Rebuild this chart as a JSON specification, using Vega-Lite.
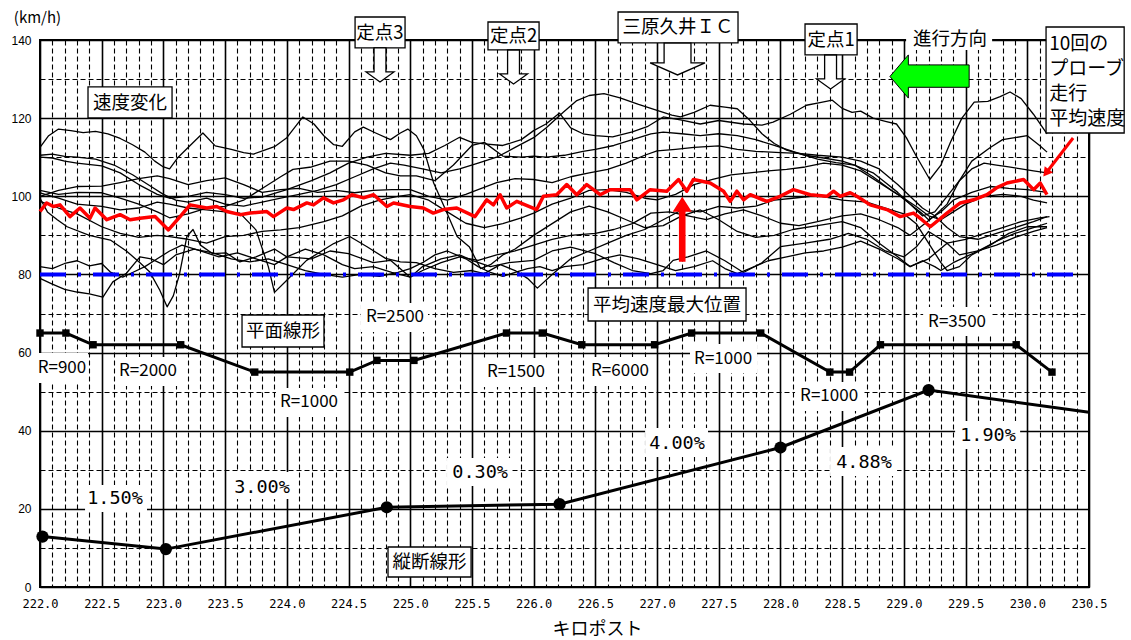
{
"$schema":"https://vega.github.io/schema/vega-lite/v6.json",
"width":1049,"height":547,"autosize":"none",
"padding":{"left":40,"top":40,"right":42,"bottom":53},
"background":"white",
"config":{"font":"Noto Sans CJK JP","view":{"stroke":"black","strokeWidth":2}},
"datasets":{
"probe":[
{"run":"1","km":222,"kmh":112.5},{"run":"1","km":222.07,"kmh":115.5},{"run":"1","km":222.15,"kmh":117.2},{"run":"1","km":222.25,"kmh":116.8},{"run":"1","km":222.35,"kmh":116.3},{"run":"1","km":222.45,"kmh":116.6},{"run":"1","km":222.55,"kmh":116},{"run":"1","km":222.65,"kmh":114.8},{"run":"1","km":222.75,"kmh":113.2},{"run":"1","km":222.85,"kmh":111.3},{"run":"1","km":222.93,"kmh":109},{"run":"1","km":223,"kmh":107.5},{"run":"1","km":223.05,"kmh":107},{"run":"1","km":223.12,"kmh":110},{"run":"1","km":223.2,"kmh":112.5},{"run":"1","km":223.32,"kmh":116.2},{"run":"1","km":223.42,"kmh":112.9},{"run":"1","km":223.55,"kmh":112},{"run":"1","km":223.65,"kmh":111.2},{"run":"1","km":223.73,"kmh":110.8},{"run":"1","km":223.82,"kmh":111.8},{"run":"1","km":223.9,"kmh":112.7},{"run":"1","km":224,"kmh":115},{"run":"1","km":224.13,"kmh":120.3},{"run":"1","km":224.22,"kmh":118.5},{"run":"1","km":224.3,"kmh":115.5},{"run":"1","km":224.38,"kmh":113.2},{"run":"1","km":224.45,"kmh":112.8},{"run":"1","km":224.55,"kmh":116.5},{"run":"1","km":224.62,"kmh":117.7},{"run":"1","km":224.72,"kmh":116.2},{"run":"1","km":224.84,"kmh":114.5},{"run":"1","km":224.92,"kmh":116.2},{"run":"1","km":224.98,"kmh":117.2},{"run":"1","km":225.05,"kmh":115.5},{"run":"1","km":225.11,"kmh":112},{"run":"1","km":225.19,"kmh":103.4},{"run":"1","km":225.28,"kmh":97},{"run":"1","km":225.38,"kmh":89.7},{"run":"1","km":225.48,"kmh":87},{"run":"1","km":225.57,"kmh":81.5},{"run":"1","km":225.65,"kmh":82.5},{"run":"1","km":225.75,"kmh":85},{"run":"1","km":225.85,"kmh":86.5},{"run":"1","km":226,"kmh":90},{"run":"1","km":226.15,"kmh":93},{"run":"1","km":226.3,"kmh":96},{"run":"1","km":226.45,"kmh":97.5},{"run":"1","km":226.6,"kmh":96},{"run":"1","km":226.75,"kmh":94},{"run":"1","km":226.9,"kmh":92},{"run":"1","km":227.05,"kmh":92.5},{"run":"1","km":227.2,"kmh":95},{"run":"1","km":227.35,"kmh":96.5},{"run":"1","km":227.5,"kmh":94},{"run":"1","km":227.65,"kmh":91},{"run":"1","km":227.8,"kmh":89.5},{"run":"1","km":227.95,"kmh":90},{"run":"1","km":228.1,"kmh":91.5},{"run":"1","km":228.3,"kmh":92.5},{"run":"1","km":228.5,"kmh":93.5},{"run":"1","km":228.65,"kmh":92},{"run":"1","km":228.8,"kmh":88},{"run":"1","km":228.95,"kmh":84.5},{"run":"1","km":229.05,"kmh":82},{"run":"1","km":229.2,"kmh":84},{"run":"1","km":229.35,"kmh":88},{"run":"1","km":229.5,"kmh":89},{"run":"1","km":229.65,"kmh":90.5},{"run":"1","km":229.8,"kmh":92},{"run":"1","km":229.95,"kmh":93.5},{"run":"1","km":230.1,"kmh":94.5},{"run":"1","km":230.18,"kmh":94.8},
{"run":"2","km":222,"kmh":110.5},{"run":"2","km":222.1,"kmh":110.8},{"run":"2","km":222.2,"kmh":110.2},{"run":"2","km":222.3,"kmh":110},{"run":"2","km":222.45,"kmh":109.5},{"run":"2","km":222.6,"kmh":108},{"run":"2","km":222.75,"kmh":105.5},{"run":"2","km":222.9,"kmh":102.5},{"run":"2","km":223,"kmh":100.5},{"run":"2","km":223.1,"kmh":99},{"run":"2","km":223.2,"kmh":98.5},{"run":"2","km":223.35,"kmh":99.5},{"run":"2","km":223.5,"kmh":98},{"run":"2","km":223.65,"kmh":97.5},{"run":"2","km":223.8,"kmh":98.5},{"run":"2","km":223.95,"kmh":99.5},{"run":"2","km":224.1,"kmh":100.5},{"run":"2","km":224.25,"kmh":101.5},{"run":"2","km":224.4,"kmh":103},{"run":"2","km":224.55,"kmh":105},{"run":"2","km":224.7,"kmh":107},{"run":"2","km":224.84,"kmh":108.5},{"run":"2","km":224.95,"kmh":108},{"run":"2","km":225.1,"kmh":107},{"run":"2","km":225.25,"kmh":106},{"run":"2","km":225.4,"kmh":107},{"run":"2","km":225.55,"kmh":108.5},{"run":"2","km":225.7,"kmh":110},{"run":"2","km":225.85,"kmh":112.5},{"run":"2","km":226,"kmh":115},{"run":"2","km":226.1,"kmh":117.5},{"run":"2","km":226.24,"kmh":121.5},{"run":"2","km":226.35,"kmh":124.5},{"run":"2","km":226.45,"kmh":125.8},{"run":"2","km":226.57,"kmh":126.3},{"run":"2","km":226.7,"kmh":125.2},{"run":"2","km":226.85,"kmh":123.5},{"run":"2","km":227,"kmh":122},{"run":"2","km":227.12,"kmh":120.8},{"run":"2","km":227.19,"kmh":120.3},{"run":"2","km":227.3,"kmh":121.5},{"run":"2","km":227.43,"kmh":123.3},{"run":"2","km":227.55,"kmh":122.8},{"run":"2","km":227.65,"kmh":122.4},{"run":"2","km":227.75,"kmh":119.5},{"run":"2","km":227.85,"kmh":116},{"run":"2","km":227.95,"kmh":113.5},{"run":"2","km":228.05,"kmh":111.8},{"run":"2","km":228.2,"kmh":110.5},{"run":"2","km":228.35,"kmh":109.8},{"run":"2","km":228.5,"kmh":109},{"run":"2","km":228.6,"kmh":108},{"run":"2","km":228.75,"kmh":106},{"run":"2","km":228.85,"kmh":103.5},{"run":"2","km":228.95,"kmh":101},{"run":"2","km":229.05,"kmh":98},{"run":"2","km":229.15,"kmh":95},{"run":"2","km":229.25,"kmh":96},{"run":"2","km":229.35,"kmh":100},{"run":"2","km":229.45,"kmh":104},{"run":"2","km":229.55,"kmh":107},{"run":"2","km":229.65,"kmh":108.5},{"run":"2","km":229.75,"kmh":108},{"run":"2","km":229.85,"kmh":107.5},{"run":"2","km":229.95,"kmh":107},{"run":"2","km":230.05,"kmh":106.5},{"run":"2","km":230.16,"kmh":106},
{"run":"3","km":222,"kmh":110},{"run":"3","km":222.1,"kmh":109.8},{"run":"3","km":222.2,"kmh":109},{"run":"3","km":222.3,"kmh":108.5},{"run":"3","km":222.5,"kmh":107.8},{"run":"3","km":222.65,"kmh":106},{"run":"3","km":222.8,"kmh":103},{"run":"3","km":222.95,"kmh":100.5},{"run":"3","km":223.05,"kmh":99.5},{"run":"3","km":223.2,"kmh":100},{"run":"3","km":223.35,"kmh":101},{"run":"3","km":223.5,"kmh":100.4},{"run":"3","km":223.65,"kmh":99.5},{"run":"3","km":223.8,"kmh":99.8},{"run":"3","km":224,"kmh":101.7},{"run":"3","km":224.2,"kmh":104},{"run":"3","km":224.35,"kmh":106},{"run":"3","km":224.5,"kmh":108.5},{"run":"3","km":224.65,"kmh":110},{"run":"3","km":224.8,"kmh":111},{"run":"3","km":225,"kmh":110.5},{"run":"3","km":225.15,"kmh":111},{"run":"3","km":225.28,"kmh":113},{"run":"3","km":225.4,"kmh":115.1},{"run":"3","km":225.5,"kmh":113.8},{"run":"3","km":225.6,"kmh":113.4},{"run":"3","km":225.75,"kmh":113},{"run":"3","km":225.9,"kmh":114.5},{"run":"3","km":226,"kmh":116.8},{"run":"3","km":226.1,"kmh":118.5},{"run":"3","km":226.21,"kmh":121.3},{"run":"3","km":226.3,"kmh":117.5},{"run":"3","km":226.4,"kmh":116},{"run":"3","km":226.5,"kmh":115.5},{"run":"3","km":226.64,"kmh":115.2},{"run":"3","km":226.8,"kmh":116.5},{"run":"3","km":226.92,"kmh":117.8},{"run":"3","km":227.05,"kmh":120.3},{"run":"3","km":227.2,"kmh":119.5},{"run":"3","km":227.35,"kmh":118.5},{"run":"3","km":227.5,"kmh":119.4},{"run":"3","km":227.7,"kmh":118.5},{"run":"3","km":227.85,"kmh":118.2},{"run":"3","km":227.94,"kmh":119},{"run":"3","km":228.08,"kmh":121},{"run":"3","km":228.21,"kmh":123.3},{"run":"3","km":228.32,"kmh":124},{"run":"3","km":228.42,"kmh":124.6},{"run":"3","km":228.5,"kmh":122.5},{"run":"3","km":228.58,"kmh":121.5},{"run":"3","km":228.65,"kmh":121.8},{"run":"3","km":228.75,"kmh":120},{"run":"3","km":228.85,"kmh":119.2},{"run":"3","km":228.94,"kmh":118.5},{"run":"3","km":229.02,"kmh":115},{"run":"3","km":229.1,"kmh":110.3},{"run":"3","km":229.21,"kmh":104.3},{"run":"3","km":229.3,"kmh":108},{"run":"3","km":229.38,"kmh":114},{"run":"3","km":229.47,"kmh":120},{"run":"3","km":229.57,"kmh":124.1},{"run":"3","km":229.68,"kmh":124.3},{"run":"3","km":229.78,"kmh":125.5},{"run":"3","km":229.86,"kmh":126.7},{"run":"3","km":229.95,"kmh":125},{"run":"3","km":230.05,"kmh":121},{"run":"3","km":230.16,"kmh":116},
{"run":"4","km":222,"kmh":99.5},{"run":"4","km":222.06,"kmh":96},{"run":"4","km":222.14,"kmh":94},{"run":"4","km":222.22,"kmh":92.2},{"run":"4","km":222.4,"kmh":90},{"run":"4","km":222.57,"kmh":88.8},{"run":"4","km":222.7,"kmh":86},{"run":"4","km":222.81,"kmh":83},{"run":"4","km":222.89,"kmh":80.6},{"run":"4","km":222.97,"kmh":76},{"run":"4","km":223.03,"kmh":71.7},{"run":"4","km":223.08,"kmh":74.5},{"run":"4","km":223.13,"kmh":80},{"run":"4","km":223.19,"kmh":89.7},{"run":"4","km":223.24,"kmh":91.5},{"run":"4","km":223.3,"kmh":87.5},{"run":"4","km":223.4,"kmh":85.3},{"run":"4","km":223.51,"kmh":85.5},{"run":"4","km":223.62,"kmh":83.2},{"run":"4","km":223.75,"kmh":84.5},{"run":"4","km":223.9,"kmh":86.5},{"run":"4","km":224,"kmh":84.5},{"run":"4","km":224.2,"kmh":84},{"run":"4","km":224.35,"kmh":86},{"run":"4","km":224.5,"kmh":85.3},{"run":"4","km":224.7,"kmh":83},{"run":"4","km":224.84,"kmh":83.6},{"run":"4","km":225,"kmh":79.3},{"run":"4","km":225.1,"kmh":82},{"run":"4","km":225.25,"kmh":84},{"run":"4","km":225.4,"kmh":85},{"run":"4","km":225.5,"kmh":83.6},{"run":"4","km":225.65,"kmh":82},{"run":"4","km":225.8,"kmh":83},{"run":"4","km":226,"kmh":83.6},{"run":"4","km":226.15,"kmh":86},{"run":"4","km":226.3,"kmh":87},{"run":"4","km":226.5,"kmh":85.3},{"run":"4","km":226.65,"kmh":83},{"run":"4","km":226.8,"kmh":81},{"run":"4","km":226.95,"kmh":80.2},{"run":"4","km":227.05,"kmh":81},{"run":"4","km":227.13,"kmh":83.6},{"run":"4","km":227.25,"kmh":84.5},{"run":"4","km":227.4,"kmh":86},{"run":"4","km":227.55,"kmh":83.5},{"run":"4","km":227.7,"kmh":80.5},{"run":"4","km":227.85,"kmh":83},{"run":"4","km":228,"kmh":87.1},{"run":"4","km":228.2,"kmh":88},{"run":"4","km":228.4,"kmh":89},{"run":"4","km":228.55,"kmh":90.5},{"run":"4","km":228.7,"kmh":89},{"run":"4","km":228.85,"kmh":86},{"run":"4","km":229,"kmh":84.5},{"run":"4","km":229.1,"kmh":87},{"run":"4","km":229.2,"kmh":91},{"run":"4","km":229.35,"kmh":88},{"run":"4","km":229.45,"kmh":85},{"run":"4","km":229.6,"kmh":86},{"run":"4","km":229.75,"kmh":88.5},{"run":"4","km":229.9,"kmh":90.5},{"run":"4","km":230.05,"kmh":92},{"run":"4","km":230.16,"kmh":93.1},
{"run":"5","km":222,"kmh":100.9},{"run":"5","km":222.15,"kmh":99.5},{"run":"5","km":222.3,"kmh":98},{"run":"5","km":222.5,"kmh":97.4},{"run":"5","km":222.65,"kmh":96.5},{"run":"5","km":222.8,"kmh":97},{"run":"5","km":222.95,"kmh":98.5},{"run":"5","km":223.05,"kmh":98},{"run":"5","km":223.2,"kmh":97},{"run":"5","km":223.35,"kmh":96.5},{"run":"5","km":223.5,"kmh":96},{"run":"5","km":223.62,"kmh":95.7},{"run":"5","km":223.75,"kmh":91.4},{"run":"5","km":223.85,"kmh":82},{"run":"5","km":223.9,"kmh":75.4},{"run":"5","km":224,"kmh":78.5},{"run":"5","km":224.16,"kmh":83.6},{"run":"5","km":224.38,"kmh":87.9},{"run":"5","km":224.51,"kmh":89.7},{"run":"5","km":224.65,"kmh":87.1},{"run":"5","km":224.8,"kmh":84.1},{"run":"5","km":224.92,"kmh":83.2},{"run":"5","km":225.05,"kmh":83},{"run":"5","km":225.2,"kmh":81.5},{"run":"5","km":225.35,"kmh":80.5},{"run":"5","km":225.5,"kmh":81},{"run":"5","km":225.6,"kmh":80.2},{"run":"5","km":225.73,"kmh":82.5},{"run":"5","km":225.85,"kmh":81},{"run":"5","km":225.95,"kmh":79},{"run":"5","km":226.03,"kmh":76.5},{"run":"5","km":226.15,"kmh":80},{"run":"5","km":226.3,"kmh":84},{"run":"5","km":226.45,"kmh":86},{"run":"5","km":226.6,"kmh":88},{"run":"5","km":226.75,"kmh":90},{"run":"5","km":226.9,"kmh":91.5},{"run":"5","km":227.05,"kmh":94},{"run":"5","km":227.2,"kmh":96.5},{"run":"5","km":227.35,"kmh":96},{"run":"5","km":227.5,"kmh":97.4},{"run":"5","km":227.65,"kmh":97},{"run":"5","km":227.8,"kmh":97.5},{"run":"5","km":227.95,"kmh":99},{"run":"5","km":228.1,"kmh":99.5},{"run":"5","km":228.3,"kmh":100.2},{"run":"5","km":228.5,"kmh":99},{"run":"5","km":228.7,"kmh":98.5},{"run":"5","km":228.85,"kmh":97},{"run":"5","km":229,"kmh":95.5},{"run":"5","km":229.1,"kmh":93},{"run":"5","km":229.2,"kmh":88},{"run":"5","km":229.3,"kmh":83},{"run":"5","km":229.35,"kmh":81},{"run":"5","km":229.45,"kmh":82},{"run":"5","km":229.55,"kmh":85},{"run":"5","km":229.7,"kmh":87.5},{"run":"5","km":229.85,"kmh":90.5},{"run":"5","km":230,"kmh":92.2},{"run":"5","km":230.16,"kmh":92.2},
{"run":"6","km":222,"kmh":100},{"run":"6","km":222.15,"kmh":101.5},{"run":"6","km":222.3,"kmh":102.5},{"run":"6","km":222.5,"kmh":102.6},{"run":"6","km":222.65,"kmh":103.5},{"run":"6","km":222.8,"kmh":104.5},{"run":"6","km":222.95,"kmh":105.2},{"run":"6","km":223.05,"kmh":104.5},{"run":"6","km":223.2,"kmh":103},{"run":"6","km":223.35,"kmh":104},{"run":"6","km":223.5,"kmh":104.7},{"run":"6","km":223.65,"kmh":103},{"run":"6","km":223.8,"kmh":101},{"run":"6","km":223.95,"kmh":101.7},{"run":"6","km":224.1,"kmh":102},{"run":"6","km":224.25,"kmh":101},{"run":"6","km":224.4,"kmh":101.5},{"run":"6","km":224.55,"kmh":100.9},{"run":"6","km":224.7,"kmh":101.5},{"run":"6","km":224.85,"kmh":101.7},{"run":"6","km":225,"kmh":101.7},{"run":"6","km":225.15,"kmh":100},{"run":"6","km":225.3,"kmh":99},{"run":"6","km":225.45,"kmh":100.5},{"run":"6","km":225.55,"kmh":101.7},{"run":"6","km":225.7,"kmh":103.5},{"run":"6","km":225.85,"kmh":104.5},{"run":"6","km":226,"kmh":104.3},{"run":"6","km":226.15,"kmh":103.5},{"run":"6","km":226.3,"kmh":105},{"run":"6","km":226.45,"kmh":106},{"run":"6","km":226.6,"kmh":106.9},{"run":"6","km":226.75,"kmh":108.5},{"run":"6","km":226.9,"kmh":110.5},{"run":"6","km":227,"kmh":111.6},{"run":"6","km":227.15,"kmh":112},{"run":"6","km":227.3,"kmh":112.5},{"run":"6","km":227.5,"kmh":112.9},{"run":"6","km":227.65,"kmh":112},{"run":"6","km":227.8,"kmh":111.5},{"run":"6","km":228,"kmh":111.2},{"run":"6","km":228.15,"kmh":111},{"run":"6","km":228.3,"kmh":110.5},{"run":"6","km":228.5,"kmh":110},{"run":"6","km":228.65,"kmh":109},{"run":"6","km":228.8,"kmh":107},{"run":"6","km":228.95,"kmh":103},{"run":"6","km":229.05,"kmh":100},{"run":"6","km":229.15,"kmh":97},{"run":"6","km":229.25,"kmh":95},{"run":"6","km":229.35,"kmh":98},{"run":"6","km":229.45,"kmh":104},{"run":"6","km":229.55,"kmh":109},{"run":"6","km":229.7,"kmh":112.5},{"run":"6","km":229.8,"kmh":114.5},{"run":"6","km":229.9,"kmh":115},{"run":"6","km":230,"kmh":115.5},{"run":"6","km":230.1,"kmh":113},{"run":"6","km":230.16,"kmh":111.3},
{"run":"7","km":222,"kmh":98.7},{"run":"7","km":222.15,"kmh":97},{"run":"7","km":222.3,"kmh":95.5},{"run":"7","km":222.5,"kmh":92.2},{"run":"7","km":222.65,"kmh":90.5},{"run":"7","km":222.8,"kmh":89.5},{"run":"7","km":222.95,"kmh":90},{"run":"7","km":223.05,"kmh":89.7},{"run":"7","km":223.2,"kmh":89},{"run":"7","km":223.35,"kmh":88},{"run":"7","km":223.5,"kmh":89.7},{"run":"7","km":223.65,"kmh":90},{"run":"7","km":223.8,"kmh":91},{"run":"7","km":223.95,"kmh":91.4},{"run":"7","km":224.1,"kmh":92},{"run":"7","km":224.3,"kmh":93.5},{"run":"7","km":224.45,"kmh":95},{"run":"7","km":224.6,"kmh":97.5},{"run":"7","km":224.75,"kmh":99},{"run":"7","km":224.9,"kmh":100},{"run":"7","km":225,"kmh":100.4},{"run":"7","km":225.15,"kmh":99},{"run":"7","km":225.3,"kmh":96},{"run":"7","km":225.45,"kmh":93.1},{"run":"7","km":225.6,"kmh":92},{"run":"7","km":225.75,"kmh":93},{"run":"7","km":225.9,"kmh":94.5},{"run":"7","km":226,"kmh":95.7},{"run":"7","km":226.15,"kmh":98},{"run":"7","km":226.3,"kmh":99.5},{"run":"7","km":226.45,"kmh":101.5},{"run":"7","km":226.6,"kmh":101.7},{"run":"7","km":226.75,"kmh":101},{"run":"7","km":226.9,"kmh":99.5},{"run":"7","km":227,"kmh":99.1},{"run":"7","km":227.15,"kmh":100.5},{"run":"7","km":227.3,"kmh":103},{"run":"7","km":227.45,"kmh":104.3},{"run":"7","km":227.6,"kmh":105.5},{"run":"7","km":227.75,"kmh":106},{"run":"7","km":227.9,"kmh":106.5},{"run":"7","km":228.05,"kmh":106.9},{"run":"7","km":228.2,"kmh":107.5},{"run":"7","km":228.35,"kmh":108.5},{"run":"7","km":228.5,"kmh":108},{"run":"7","km":228.65,"kmh":106.5},{"run":"7","km":228.8,"kmh":103.5},{"run":"7","km":228.95,"kmh":100.5},{"run":"7","km":229.05,"kmh":98},{"run":"7","km":229.15,"kmh":95.5},{"run":"7","km":229.2,"kmh":94},{"run":"7","km":229.3,"kmh":96},{"run":"7","km":229.4,"kmh":99},{"run":"7","km":229.55,"kmh":101},{"run":"7","km":229.7,"kmh":102.5},{"run":"7","km":229.85,"kmh":102},{"run":"7","km":230,"kmh":101.7},{"run":"7","km":230.16,"kmh":101},
{"run":"8","km":222,"kmh":101.5},{"run":"8","km":222.15,"kmh":100.5},{"run":"8","km":222.3,"kmh":101},{"run":"8","km":222.5,"kmh":100.9},{"run":"8","km":222.65,"kmh":99.5},{"run":"8","km":222.8,"kmh":98},{"run":"8","km":222.95,"kmh":96},{"run":"8","km":223.05,"kmh":94.5},{"run":"8","km":223.2,"kmh":95.5},{"run":"8","km":223.35,"kmh":97},{"run":"8","km":223.5,"kmh":97.4},{"run":"8","km":223.65,"kmh":99},{"run":"8","km":223.8,"kmh":102},{"run":"8","km":223.95,"kmh":105},{"run":"8","km":224.05,"kmh":106.9},{"run":"8","km":224.2,"kmh":107.5},{"run":"8","km":224.35,"kmh":109},{"run":"8","km":224.5,"kmh":109},{"run":"8","km":224.65,"kmh":108},{"run":"8","km":224.8,"kmh":106},{"run":"8","km":224.92,"kmh":105.2},{"run":"8","km":225.05,"kmh":105.2},{"run":"8","km":225.2,"kmh":104},{"run":"8","km":225.35,"kmh":108},{"run":"8","km":225.5,"kmh":113},{"run":"8","km":225.6,"kmh":113.8},{"run":"8","km":225.75,"kmh":110.3},{"run":"8","km":225.9,"kmh":110},{"run":"8","km":226,"kmh":110.3},{"run":"8","km":226.1,"kmh":110},{"run":"8","km":226.25,"kmh":110.5},{"run":"8","km":226.4,"kmh":111.5},{"run":"8","km":226.5,"kmh":112},{"run":"8","km":226.65,"kmh":113},{"run":"8","km":226.8,"kmh":114.5},{"run":"8","km":226.95,"kmh":116},{"run":"8","km":227.05,"kmh":116.4},{"run":"8","km":227.2,"kmh":116},{"run":"8","km":227.35,"kmh":115.5},{"run":"8","km":227.5,"kmh":116},{"run":"8","km":227.65,"kmh":115.5},{"run":"8","km":227.8,"kmh":114.5},{"run":"8","km":227.95,"kmh":113},{"run":"8","km":228.1,"kmh":111.5},{"run":"8","km":228.3,"kmh":109.5},{"run":"8","km":228.45,"kmh":108.6},{"run":"8","km":228.6,"kmh":108},{"run":"8","km":228.75,"kmh":105},{"run":"8","km":228.9,"kmh":101.5},{"run":"8","km":229,"kmh":99.5},{"run":"8","km":229.1,"kmh":97.4},{"run":"8","km":229.2,"kmh":95},{"run":"8","km":229.3,"kmh":94},{"run":"8","km":229.4,"kmh":96},{"run":"8","km":229.5,"kmh":98},{"run":"8","km":229.65,"kmh":100},{"run":"8","km":229.8,"kmh":100.5},{"run":"8","km":229.95,"kmh":100},{"run":"8","km":230.05,"kmh":99},{"run":"8","km":230.16,"kmh":98.3},
{"run":"9","km":222,"kmh":82},{"run":"9","km":222.1,"kmh":81.5},{"run":"9","km":222.2,"kmh":82.8},{"run":"9","km":222.3,"kmh":83.5},{"run":"9","km":222.4,"kmh":82.2},{"run":"9","km":222.5,"kmh":82.8},{"run":"9","km":222.57,"kmh":80.6},{"run":"9","km":222.67,"kmh":79.3},{"run":"9","km":222.75,"kmh":80.5},{"run":"9","km":222.85,"kmh":82},{"run":"9","km":222.95,"kmh":84},{"run":"9","km":223.05,"kmh":86},{"run":"9","km":223.15,"kmh":87.5},{"run":"9","km":223.3,"kmh":86},{"run":"9","km":223.45,"kmh":84.5},{"run":"9","km":223.6,"kmh":85.5},{"run":"9","km":223.75,"kmh":84},{"run":"9","km":223.9,"kmh":82.5},{"run":"9","km":224,"kmh":84.5},{"run":"9","km":224.15,"kmh":86.5},{"run":"9","km":224.3,"kmh":85},{"run":"9","km":224.45,"kmh":82.5},{"run":"9","km":224.55,"kmh":81.5},{"run":"9","km":224.7,"kmh":82},{"run":"9","km":224.85,"kmh":80.5},{"run":"9","km":225,"kmh":79.3},{"run":"9","km":225.1,"kmh":81},{"run":"9","km":225.25,"kmh":83},{"run":"9","km":225.4,"kmh":84.5},{"run":"9","km":225.55,"kmh":83.6},{"run":"9","km":225.7,"kmh":85},{"run":"9","km":225.85,"kmh":86},{"run":"9","km":226,"kmh":87.5},{"run":"9","km":226.15,"kmh":89},{"run":"9","km":226.3,"kmh":90},{"run":"9","km":226.5,"kmh":90.5},{"run":"9","km":226.65,"kmh":91.5},{"run":"9","km":226.8,"kmh":93},{"run":"9","km":226.95,"kmh":95.7},{"run":"9","km":227.1,"kmh":96},{"run":"9","km":227.25,"kmh":95},{"run":"9","km":227.4,"kmh":94},{"run":"9","km":227.55,"kmh":95.5},{"run":"9","km":227.7,"kmh":96.5},{"run":"9","km":227.85,"kmh":95},{"run":"9","km":228,"kmh":93.1},{"run":"9","km":228.15,"kmh":92.5},{"run":"9","km":228.3,"kmh":93.5},{"run":"9","km":228.5,"kmh":95},{"run":"9","km":228.65,"kmh":95.5},{"run":"9","km":228.8,"kmh":94},{"run":"9","km":228.95,"kmh":92},{"run":"9","km":229.05,"kmh":90},{"run":"9","km":229.15,"kmh":92.5},{"run":"9","km":229.25,"kmh":95},{"run":"9","km":229.35,"kmh":92},{"run":"9","km":229.45,"kmh":89.7},{"run":"9","km":229.6,"kmh":89},{"run":"9","km":229.75,"kmh":90.5},{"run":"9","km":229.9,"kmh":92},{"run":"9","km":230.05,"kmh":93.5},{"run":"9","km":230.16,"kmh":94.8},
{"run":"10","km":222,"kmh":79},{"run":"10","km":222.1,"kmh":77.5},{"run":"10","km":222.2,"kmh":76.2},{"run":"10","km":222.3,"kmh":75.5},{"run":"10","km":222.4,"kmh":75},{"run":"10","km":222.51,"kmh":74.2},{"run":"10","km":222.59,"kmh":78.1},{"run":"10","km":222.7,"kmh":80.3},{"run":"10","km":222.81,"kmh":84.5},{"run":"10","km":222.9,"kmh":84},{"run":"10","km":223,"kmh":82.5},{"run":"10","km":223.1,"kmh":85},{"run":"10","km":223.25,"kmh":86.5},{"run":"10","km":223.4,"kmh":85.5},{"run":"10","km":223.55,"kmh":84},{"run":"10","km":223.7,"kmh":83.2},{"run":"10","km":223.85,"kmh":84},{"run":"10","km":224,"kmh":82.5},{"run":"10","km":224.15,"kmh":81},{"run":"10","km":224.3,"kmh":80},{"run":"10","km":224.45,"kmh":79.3},{"run":"10","km":224.6,"kmh":80},{"run":"10","km":224.75,"kmh":79.5},{"run":"10","km":224.9,"kmh":80.5},{"run":"10","km":225,"kmh":81.5},{"run":"10","km":225.1,"kmh":83},{"run":"10","km":225.2,"kmh":85},{"run":"10","km":225.3,"kmh":86},{"run":"10","km":225.45,"kmh":84},{"run":"10","km":225.55,"kmh":82},{"run":"10","km":225.65,"kmh":80.5},{"run":"10","km":225.75,"kmh":79.5},{"run":"10","km":225.85,"kmh":80.5},{"run":"10","km":225.95,"kmh":81.5},{"run":"10","km":226.05,"kmh":82},{"run":"10","km":226.15,"kmh":81},{"run":"10","km":226.25,"kmh":82},{"run":"10","km":226.4,"kmh":82.5},{"run":"10","km":226.55,"kmh":84},{"run":"10","km":226.7,"kmh":85},{"run":"10","km":226.85,"kmh":84},{"run":"10","km":227,"kmh":82.5},{"run":"10","km":227.15,"kmh":81},{"run":"10","km":227.3,"kmh":82},{"run":"10","km":227.45,"kmh":83.5},{"run":"10","km":227.55,"kmh":81.5},{"run":"10","km":227.65,"kmh":80.2},{"run":"10","km":227.75,"kmh":81.5},{"run":"10","km":227.9,"kmh":83.5},{"run":"10","km":228.05,"kmh":84.5},{"run":"10","km":228.2,"kmh":85.5},{"run":"10","km":228.35,"kmh":86},{"run":"10","km":228.5,"kmh":87},{"run":"10","km":228.65,"kmh":88.5},{"run":"10","km":228.8,"kmh":86.5},{"run":"10","km":228.95,"kmh":84},{"run":"10","km":229.05,"kmh":82},{"run":"10","km":229.15,"kmh":83.5},{"run":"10","km":229.25,"kmh":82},{"run":"10","km":229.3,"kmh":81},{"run":"10","km":229.4,"kmh":83},{"run":"10","km":229.5,"kmh":84.5},{"run":"10","km":229.6,"kmh":86},{"run":"10","km":229.75,"kmh":87.5},{"run":"10","km":229.9,"kmh":89.5},{"run":"10","km":230.05,"kmh":91},{"run":"10","km":230.16,"kmh":92}
],
"avg":[
{"km":222,"kmh":96.1},{"km":222.054,"kmh":98.3},{"km":222.108,"kmh":97.4},{"km":222.162,"kmh":97.8},{"km":222.243,"kmh":94.8},{"km":222.324,"kmh":97},{"km":222.405,"kmh":94.4},{"km":222.446,"kmh":97},{"km":222.541,"kmh":94},{"km":222.649,"kmh":95.3},{"km":222.73,"kmh":94},{"km":222.811,"kmh":94.4},{"km":222.932,"kmh":94.8},{"km":223.041,"kmh":91.4},{"km":223.135,"kmh":94.8},{"km":223.216,"kmh":97.8},{"km":223.351,"kmh":97},{"km":223.432,"kmh":97.4},{"km":223.514,"kmh":96.1},{"km":223.622,"kmh":95.3},{"km":223.703,"kmh":95.7},{"km":223.838,"kmh":96.1},{"km":223.892,"kmh":94.8},{"km":224,"kmh":97},{"km":224.054,"kmh":96.6},{"km":224.162,"kmh":98.3},{"km":224.216,"kmh":97.8},{"km":224.297,"kmh":99.6},{"km":224.378,"kmh":98.3},{"km":224.459,"kmh":99.1},{"km":224.527,"kmh":100.4},{"km":224.622,"kmh":99.6},{"km":224.703,"kmh":100.4},{"km":224.811,"kmh":97.4},{"km":224.865,"kmh":98.3},{"km":225,"kmh":97.4},{"km":225.106,"kmh":97},{"km":225.187,"kmh":95.7},{"km":225.268,"kmh":96.6},{"km":225.377,"kmh":97},{"km":225.525,"kmh":94.8},{"km":225.62,"kmh":99.1},{"km":225.674,"kmh":97.8},{"km":225.728,"kmh":100.4},{"km":225.782,"kmh":97},{"km":225.863,"kmh":98.7},{"km":226.025,"kmh":96.6},{"km":226.079,"kmh":100},{"km":226.187,"kmh":100.4},{"km":226.268,"kmh":103},{"km":226.349,"kmh":100.4},{"km":226.43,"kmh":103},{"km":226.539,"kmh":100.4},{"km":226.62,"kmh":101.7},{"km":226.782,"kmh":101.7},{"km":226.836,"kmh":99.1},{"km":226.944,"kmh":101.7},{"km":227.079,"kmh":101.3},{"km":227.174,"kmh":104.3},{"km":227.241,"kmh":101.3},{"km":227.295,"kmh":104.3},{"km":227.43,"kmh":103.4},{"km":227.539,"kmh":101.3},{"km":227.593,"kmh":98.7},{"km":227.647,"kmh":101.3},{"km":227.701,"kmh":99.1},{"km":227.755,"kmh":100.4},{"km":227.889,"kmh":98.7},{"km":227.997,"kmh":100},{"km":228.105,"kmh":101.7},{"km":228.241,"kmh":100.4},{"km":228.376,"kmh":100},{"km":228.43,"kmh":101.3},{"km":228.484,"kmh":100},{"km":228.565,"kmh":100.9},{"km":228.619,"kmh":100},{"km":228.727,"kmh":97.8},{"km":228.862,"kmh":96.6},{"km":228.97,"kmh":94.8},{"km":229.078,"kmh":95.7},{"km":229.146,"kmh":94},{"km":229.214,"kmh":92.2},{"km":229.349,"kmh":95.7},{"km":229.457,"kmh":98.3},{"km":229.565,"kmh":99.1},{"km":229.673,"kmh":100.4},{"km":229.754,"kmh":102.2},{"km":229.835,"kmh":103.4},{"km":229.97,"kmh":104.3},{"km":230.051,"kmh":101.7},{"km":230.105,"kmh":103.4},{"km":230.159,"kmh":100.4}
],
"limit":[{"km":222,"kmh":80},{"km":230.4,"kmh":80}],
"plan":[
{"km":222,"kmh":65},{"km":222.21,"kmh":65},{"km":222.43,"kmh":62},{"km":223.14,"kmh":62},{"km":223.74,"kmh":55},{"km":224.51,"kmh":55},{"km":224.73,"kmh":58},{"km":225.03,"kmh":58},{"km":225.78,"kmh":65},{"km":226.07,"kmh":65},{"km":226.39,"kmh":62},{"km":226.98,"kmh":62},{"km":227.28,"kmh":65},{"km":227.84,"kmh":65},{"km":228.4,"kmh":55},{"km":228.56,"kmh":55},{"km":228.81,"kmh":62},{"km":229.91,"kmh":62},{"km":230.2,"kmh":55}
],
"profile":[
{"km":222.02,"kmh":12.9},{"km":223.02,"kmh":9.7},{"km":224.81,"kmh":20.4},{"km":226.21,"kmh":21.2},{"km":228,"kmh":35.7},{"km":229.2,"kmh":50.4},{"km":230.5,"kmh":44.7}
],
"notes":[
{"kind":"callout","text":"速度変化","km":222.729,"kmh":124.0,"k1":222.389,"k2":223.07,"v1":120.04,"v2":127.98},
{"kind":"callout","text":"定点3","km":224.755,"kmh":141.9,"k1":224.553,"k2":224.958,"v1":137.96,"v2":145.89},
{"kind":"callout","text":"定点2","km":225.837,"kmh":141.0,"k1":225.63,"k2":226.044,"v1":137.45,"v2":144.61},
{"kind":"callout","text":"三原久井ＩＣ","km":227.17,"kmh":143.2,"k1":226.684,"k2":227.656,"v1":139.24,"v2":147.17},
{"kind":"callout","text":"定点1","km":228.41,"kmh":140.1,"k1":228.199,"k2":228.621,"v1":136.17,"v2":144.1},
{"kind":"callout","text":"平均速度最大位置","km":227.081,"kmh":72.3,"k1":226.441,"k2":227.721,"v1":68.08,"v2":76.53},
{"kind":"callout","text":"平面線形","km":223.969,"kmh":65.5,"k1":223.637,"k2":224.301,"v1":61.43,"v2":69.62},
{"kind":"callout","text":"縦断線形","km":225.156,"kmh":6.4,"k1":224.82,"k2":225.493,"v1":2.56,"v2":10.24},
{"kind":"legend","text":"10回の\nプローブ\n走行\n平均速度","km":230.177,"kmh":141.3,"k1":230.152,"k2":230.785,"v1":116.2,"v2":143.33},
{"kind":"radius","text":"R=900","km":222.178,"kmh":56.05,"k1":221.976,"k2":222.389,"v1":52.21,"v2":59.89},
{"kind":"radius","text":"R=2000","km":222.875,"kmh":55.29,"k1":222.624,"k2":223.135,"v1":51.45,"v2":58.87},
{"kind":"radius","text":"R=1000","km":224.18,"kmh":47.35,"k1":223.912,"k2":224.447,"v1":43.51,"v2":50.93},
{"kind":"radius","text":"R=2500","km":224.877,"kmh":68.98,"k1":224.601,"k2":225.144,"v1":65.27,"v2":72.69},
{"kind":"radius","text":"R=1500","km":225.857,"kmh":54.9,"k1":225.59,"k2":226.125,"v1":51.19,"v2":58.61},
{"kind":"radius","text":"R=6000","km":226.7,"kmh":55.16,"k1":226.449,"k2":226.959,"v1":51.45,"v2":58.87},
{"kind":"radius","text":"R=1000","km":227.535,"kmh":58.48,"k1":227.267,"k2":227.81,"v1":54.77,"v2":62.2},
{"kind":"radius","text":"R=1000","km":228.394,"kmh":48.76,"k1":228.118,"k2":228.661,"v1":45.05,"v2":52.47},
{"kind":"radius","text":"R=3500","km":229.431,"kmh":67.95,"k1":229.156,"k2":229.715,"v1":64.24,"v2":71.67},
{"kind":"grade","text":"1.50%","km":222.608,"kmh":22.78,"k1":222.365,"k2":222.867,"v1":19.2,"v2":26.11},
{"kind":"grade","text":"3.00%","km":223.799,"kmh":25.47,"k1":223.54,"k2":224.05,"v1":22.52,"v2":29.43},
{"kind":"grade","text":"0.30%","km":225.566,"kmh":29.56,"k1":225.298,"k2":225.825,"v1":25.85,"v2":33.02},
{"kind":"grade","text":"4.00%","km":227.162,"kmh":36.73,"k1":226.903,"k2":227.413,"v1":33.27,"v2":40.7},
{"kind":"grade","text":"4.88%","km":228.677,"kmh":32.12,"k1":228.402,"k2":228.945,"v1":28.41,"v2":35.83},
{"kind":"grade","text":"1.90%","km":229.682,"kmh":38.9,"k1":229.415,"k2":229.942,"v1":35.32,"v2":42.49},
{"kind":"direction","text":"進行方向","km":229.374,"kmh":140.26,"k1":229.018,"k2":229.715,"v1":137.45,"v2":143.08}
],
"arrows":[
{"name":"定点3","km":224.755,"kmh":133.61},{"name":"定点2","km":225.837,"kmh":133.09},{"name":"定点1","km":228.406,"kmh":131.81},
{"name":"IC","km":227.166,"kmh":135.14},{"name":"direction","km":229.208,"kmh":130.66},{"name":"peak","km":227.204,"kmh":91.58}
],
"pointer":[{"km":230.371,"kmh":114.92,"km2":230.152,"kmh2":105.96}]
},
"layer":[
{"data":{"name":"probe"},
 "mark":{"type":"line","color":"black","strokeWidth":1.3,"strokeJoin":"round"},
 "encoding":{
  "x":{"field":"km","type":"quantitative","scale":{"domain":[222,230.5],"nice":false,"zero":false},
   "axis":{"values":[222,222.1,222.2,222.3,222.4,222.5,222.6,222.7,222.8,222.9,223,223.1,223.2,223.3,223.4,223.5,223.6,223.7,223.8,223.9,224,224.1,224.2,224.3,224.4,224.5,224.6,224.7,224.8,224.9,225,225.1,225.2,225.3,225.4,225.5,225.6,225.7,225.8,225.9,226,226.1,226.2,226.3,226.4,226.5,226.6,226.7,226.8,226.9,227,227.1,227.2,227.3,227.4,227.5,227.6,227.7,227.8,227.9,228,228.1,228.2,228.3,228.4,228.5,228.6,228.7,228.8,228.9,229,229.1,229.2,229.3,229.4,229.5,229.6,229.7,229.8,229.9,230,230.1,230.2,230.3,230.4,230.5],
    "tickCount":500,
    "grid":true,"gridColor":"black","gridOpacity":1,
    "gridDash":{"condition":{"test":"abs(datum.value*2-round(datum.value*2))<0.001","value":[]},"value":[5,3]},
    "gridWidth":{"condition":{"test":"abs(datum.value*2-round(datum.value*2))<0.001","value":1.6},"value":1.1},
    "domain":false,"ticks":false,
    "labelExpr":"abs(datum.value*2-round(datum.value*2))<0.001 ? format(datum.value,'.1f') : ''",
    "labelFont":"DejaVu Sans Mono","labelFontSize":12,"labelColor":"black","labelPadding":11,"labelFlush":false,"labelOverlap":false,
    "title":"キロポスト","titleFont":"Noto Sans CJK JP","titleFontSize":18,"titleFontWeight":"normal","titleColor":"black","titleX":557,"titleY":42,"titleBaseline":"middle","titleAlign":"center"}},
  "y":{"field":"kmh","type":"quantitative","scale":{"domain":[0,140],"nice":false,"zero":false},
   "axis":{"values":[0,10,20,30,40,50,60,70,80,90,100,110,120,130,140],
    "tickCount":500,
    "grid":true,"gridColor":"black","gridOpacity":1,
    "gridDash":{"condition":{"test":"datum.value % 20 === 0","value":[]},"value":[5,3]},
    "gridWidth":{"condition":{"test":"datum.value % 20 === 0","value":1.6},"value":1.1},
    "domain":false,"ticks":false,
    "labelExpr":"datum.value % 20 === 0 ? format(datum.value,'d') : ''",
    "labelFont":"Liberation Sans","labelFontSize":12,"labelColor":"black","labelPadding":9,"labelOverlap":false,
    "title":"(km/h)","titleFont":"Noto Sans CJK JP","titleFontSize":15,"titleFontWeight":"normal","titleColor":"black","titleAngle":0,"titleX":-3,"titleY":-23,"titleAlign":"center","titleBaseline":"middle"}},
  "detail":{"field":"run","type":"nominal"}}},
{"data":{"name":"limit"},
 "mark":{"type":"line","color":"#0000ff","strokeWidth":4,"strokeDash":[26,12,3,12]},
 "encoding":{"x":{"field":"km","type":"quantitative","scale":{"domain":[222,230.5]}},"y":{"field":"kmh","type":"quantitative","scale":{"domain":[0,140]}}}},
{"data":{"name":"avg"},
 "mark":{"type":"line","color":"#ff0000","strokeWidth":3.5,"strokeJoin":"round"},
 "encoding":{"x":{"field":"km","type":"quantitative","scale":{"domain":[222,230.5]}},"y":{"field":"kmh","type":"quantitative","scale":{"domain":[0,140]}}}},
{"data":{"name":"plan"},
 "mark":{"type":"line","color":"black","strokeWidth":3},
 "encoding":{"x":{"field":"km","type":"quantitative","scale":{"domain":[222,230.5]}},"y":{"field":"kmh","type":"quantitative","scale":{"domain":[0,140]}}}},
{"data":{"name":"plan"},
 "mark":{"type":"point","shape":"square","filled":true,"color":"black","size":55,"opacity":1},
 "encoding":{"x":{"field":"km","type":"quantitative","scale":{"domain":[222,230.5]}},"y":{"field":"kmh","type":"quantitative","scale":{"domain":[0,140]}}}},
{"data":{"name":"profile"},
 "mark":{"type":"line","color":"black","strokeWidth":3},
 "encoding":{"x":{"field":"km","type":"quantitative","scale":{"domain":[222,230.5]}},"y":{"field":"kmh","type":"quantitative","scale":{"domain":[0,140]}}}},
{"data":{"name":"profile"},
 "transform":[{"filter":"datum.km < 230.45"}],
 "mark":{"type":"point","shape":"circle","filled":true,"color":"black","size":150,"opacity":1},
 "encoding":{"x":{"field":"km","type":"quantitative","scale":{"domain":[222,230.5]}},"y":{"field":"kmh","type":"quantitative","scale":{"domain":[0,140]}}}},
{"data":{"name":"notes"},
 "transform":[{"filter":{"field":"kind","oneOf":["radius","grade","direction"]}}],
 "mark":{"type":"rect","fill":"white","stroke":null},
 "encoding":{"x":{"field":"k1","type":"quantitative","scale":{"domain":[222,230.5]}},"x2":{"field":"k2"},"y":{"field":"v1","type":"quantitative","scale":{"domain":[0,140]}},"y2":{"field":"v2"}}},
{"data":{"name":"notes"},
 "transform":[{"filter":{"field":"kind","oneOf":["callout","legend"]}}],
 "mark":{"type":"rect","fill":"white","stroke":"black","strokeWidth":1.3},
 "encoding":{"x":{"field":"k1","type":"quantitative","scale":{"domain":[222,230.5]}},"x2":{"field":"k2"},"y":{"field":"v1","type":"quantitative","scale":{"domain":[0,140]}},"y2":{"field":"v2"}}},
{"data":{"name":"notes"},
 "transform":[{"filter":{"field":"kind","equal":"radius"}}],
 "mark":{"type":"text","font":"Noto Sans CJK JP","fontSize":17,"color":"black","align":"center","baseline":"middle"},
 "encoding":{"x":{"field":"km","type":"quantitative","scale":{"domain":[222,230.5]}},"y":{"field":"kmh","type":"quantitative","scale":{"domain":[0,140]}},"text":{"field":"text"}}},
{"data":{"name":"notes"},
 "transform":[{"filter":{"field":"kind","equal":"grade"}}],
 "mark":{"type":"text","font":"DejaVu Sans Mono","fontSize":18.5,"color":"black","align":"center","baseline":"middle"},
 "encoding":{"x":{"field":"km","type":"quantitative","scale":{"domain":[222,230.5]}},"y":{"field":"kmh","type":"quantitative","scale":{"domain":[0,140]}},"text":{"field":"text"}}},
{"data":{"name":"notes"},
 "transform":[{"filter":{"field":"kind","oneOf":["callout","direction"]}}],
 "mark":{"type":"text","font":"Noto Sans CJK JP","fontSize":18.5,"color":"black","align":"center","baseline":"middle"},
 "encoding":{"x":{"field":"km","type":"quantitative","scale":{"domain":[222,230.5]}},"y":{"field":"kmh","type":"quantitative","scale":{"domain":[0,140]}},"text":{"field":"text"}}},
{"data":{"name":"notes"},
 "transform":[{"filter":{"field":"kind","equal":"legend"}}],
 "mark":{"type":"text","font":"Noto Sans CJK JP","fontSize":19,"color":"black","align":"left","baseline":"top","lineBreak":"\n","lineHeight":25},
 "encoding":{"x":{"field":"km","type":"quantitative","scale":{"domain":[222,230.5]}},"y":{"field":"kmh","type":"quantitative","scale":{"domain":[0,140]}},"text":{"field":"text"}}},
{"data":{"name":"arrows"},
 "transform":[{"filter":{"field":"name","oneOf":["定点3","定点2","定点1"]}}],
 "mark":{"type":"point","filled":true,"fill":"white","stroke":"black","strokeWidth":1.3,"opacity":1,"size":1156,"shape":"M-0.35,-1L0.35,-1L0.35,0.41L0.82,0.41L0,1L-0.82,0.41L-0.35,0.41Z"},
 "encoding":{"x":{"field":"km","type":"quantitative","scale":{"domain":[222,230.5]}},"y":{"field":"kmh","type":"quantitative","scale":{"domain":[0,140]}}}},
{"data":{"name":"arrows"},
 "transform":[{"filter":{"field":"name","equal":"IC"}}],
 "mark":{"type":"point","filled":true,"fill":"white","stroke":"black","strokeWidth":1.3,"opacity":1,"size":3136,"shape":"M-0.48,-0.57L0.48,-0.57L0.48,0.14L0.98,0.14L0,0.57L-0.98,0.14L-0.48,0.14Z"},
 "encoding":{"x":{"field":"km","type":"quantitative","scale":{"domain":[222,230.5]}},"y":{"field":"kmh","type":"quantitative","scale":{"domain":[0,140]}}}},
{"data":{"name":"arrows"},
 "transform":[{"filter":{"field":"name","equal":"direction"}}],
 "mark":{"type":"point","filled":true,"fill":"#00ff00","stroke":"black","strokeWidth":1,"opacity":1,"size":6400,"shape":"M-0.99,0L-0.53,-0.54L-0.53,-0.29L0.99,-0.29L0.99,0.27L-0.53,0.27L-0.53,0.54Z"},
 "encoding":{"x":{"field":"km","type":"quantitative","scale":{"domain":[222,230.5]}},"y":{"field":"kmh","type":"quantitative","scale":{"domain":[0,140]}}}},
{"data":{"name":"arrows"},
 "transform":[{"filter":{"field":"name","equal":"peak"}}],
 "mark":{"type":"point","filled":true,"fill":"#ff0000","strokeWidth":0,"opacity":1,"size":4356,"shape":"M0,-0.985L0.29,-0.53L0.1,-0.53L0.1,0.985L-0.1,0.985L-0.1,-0.53L-0.29,-0.53Z"},
 "encoding":{"x":{"field":"km","type":"quantitative","scale":{"domain":[222,230.5]}},"y":{"field":"kmh","type":"quantitative","scale":{"domain":[0,140]}}}},
{"data":{"name":"pointer"},
 "mark":{"type":"rule","color":"#ff0000","strokeWidth":3},
 "encoding":{"x":{"field":"km","type":"quantitative","scale":{"domain":[222,230.5]}},"x2":{"field":"km2"},"y":{"field":"kmh","type":"quantitative","scale":{"domain":[0,140]}},"y2":{"field":"kmh2"}}},
{"data":{"name":"pointer"},
 "mark":{"type":"point","shape":"triangle-up","filled":true,"fill":"#ff0000","strokeWidth":0,"opacity":1,"size":110,"angle":217.6},
 "encoding":{"x":{"field":"km2","type":"quantitative","scale":{"domain":[222,230.5]}},"y":{"field":"kmh2","type":"quantitative","scale":{"domain":[0,140]}}}}
]
}
